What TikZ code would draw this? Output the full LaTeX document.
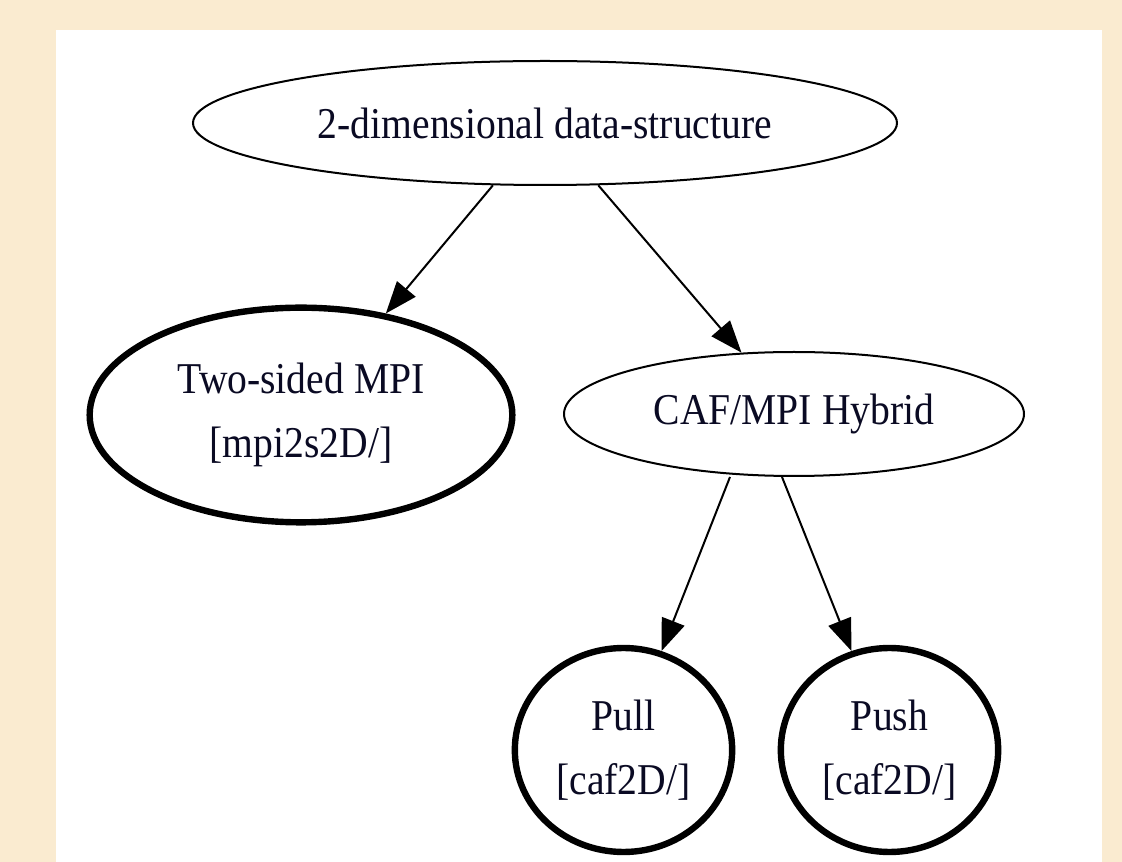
\documentclass[tikz,border=0pt]{standalone}
\usepackage{fontspec}
\setmainfont{Liberation Serif}[FakeStretch=0.9]
\usetikzlibrary{shapes.geometric,arrows.meta}
\definecolor{bgbeige}{RGB}{250,235,208}
\definecolor{txtc}{RGB}{10,10,35}
\begin{document}
\begin{tikzpicture}[x=0.75pt,y=-0.75pt,
  nd/.style={ellipse,draw=black,fill=white,inner sep=0pt,text=txtc,align=center,
    font=\fontsize{33}{48}\selectfont},
  thinnode/.style={nd,line width=1.5pt},
  thicknode/.style={nd,line width=4.8pt},
  conn/.style={draw=black,line width=1.5pt,-{Triangle[length=24pt,width=18pt]}}]
\useasboundingbox (0,0) rectangle (1122,862);
\fill[bgbeige] (0,0) rectangle (1122,862);
\fill[white] (56,30) rectangle (1102,862);
\node[thinnode,minimum width=528pt,minimum height=93pt] (top) at (545,123) {2-dimensional data-structure};
\node[thicknode,minimum width=317pt,minimum height=161pt] (two) at (301,415) {Two-sided MPI\\{}[mpi2s2D/]};
\node[thinnode,minimum width=345pt,minimum height=93pt] (caf) at (794,414) {CAF/MPI Hybrid};
\node[thicknode,minimum width=163pt,minimum height=153pt] (pull) at (623.5,750) {Pull\\{}[caf2D/]};
\node[thicknode,minimum width=163pt,minimum height=153pt] (push) at (889.5,750) {Push\\{}[caf2D/]};
\draw[conn] (top) -- (two);
\draw[conn] (top) -- (caf);
\draw[conn] ([xshift=-48pt]caf.south) -- (pull.69);
\draw[conn] ([xshift=-9pt]caf.south) -- (push.111);
\end{tikzpicture}
\end{document}
